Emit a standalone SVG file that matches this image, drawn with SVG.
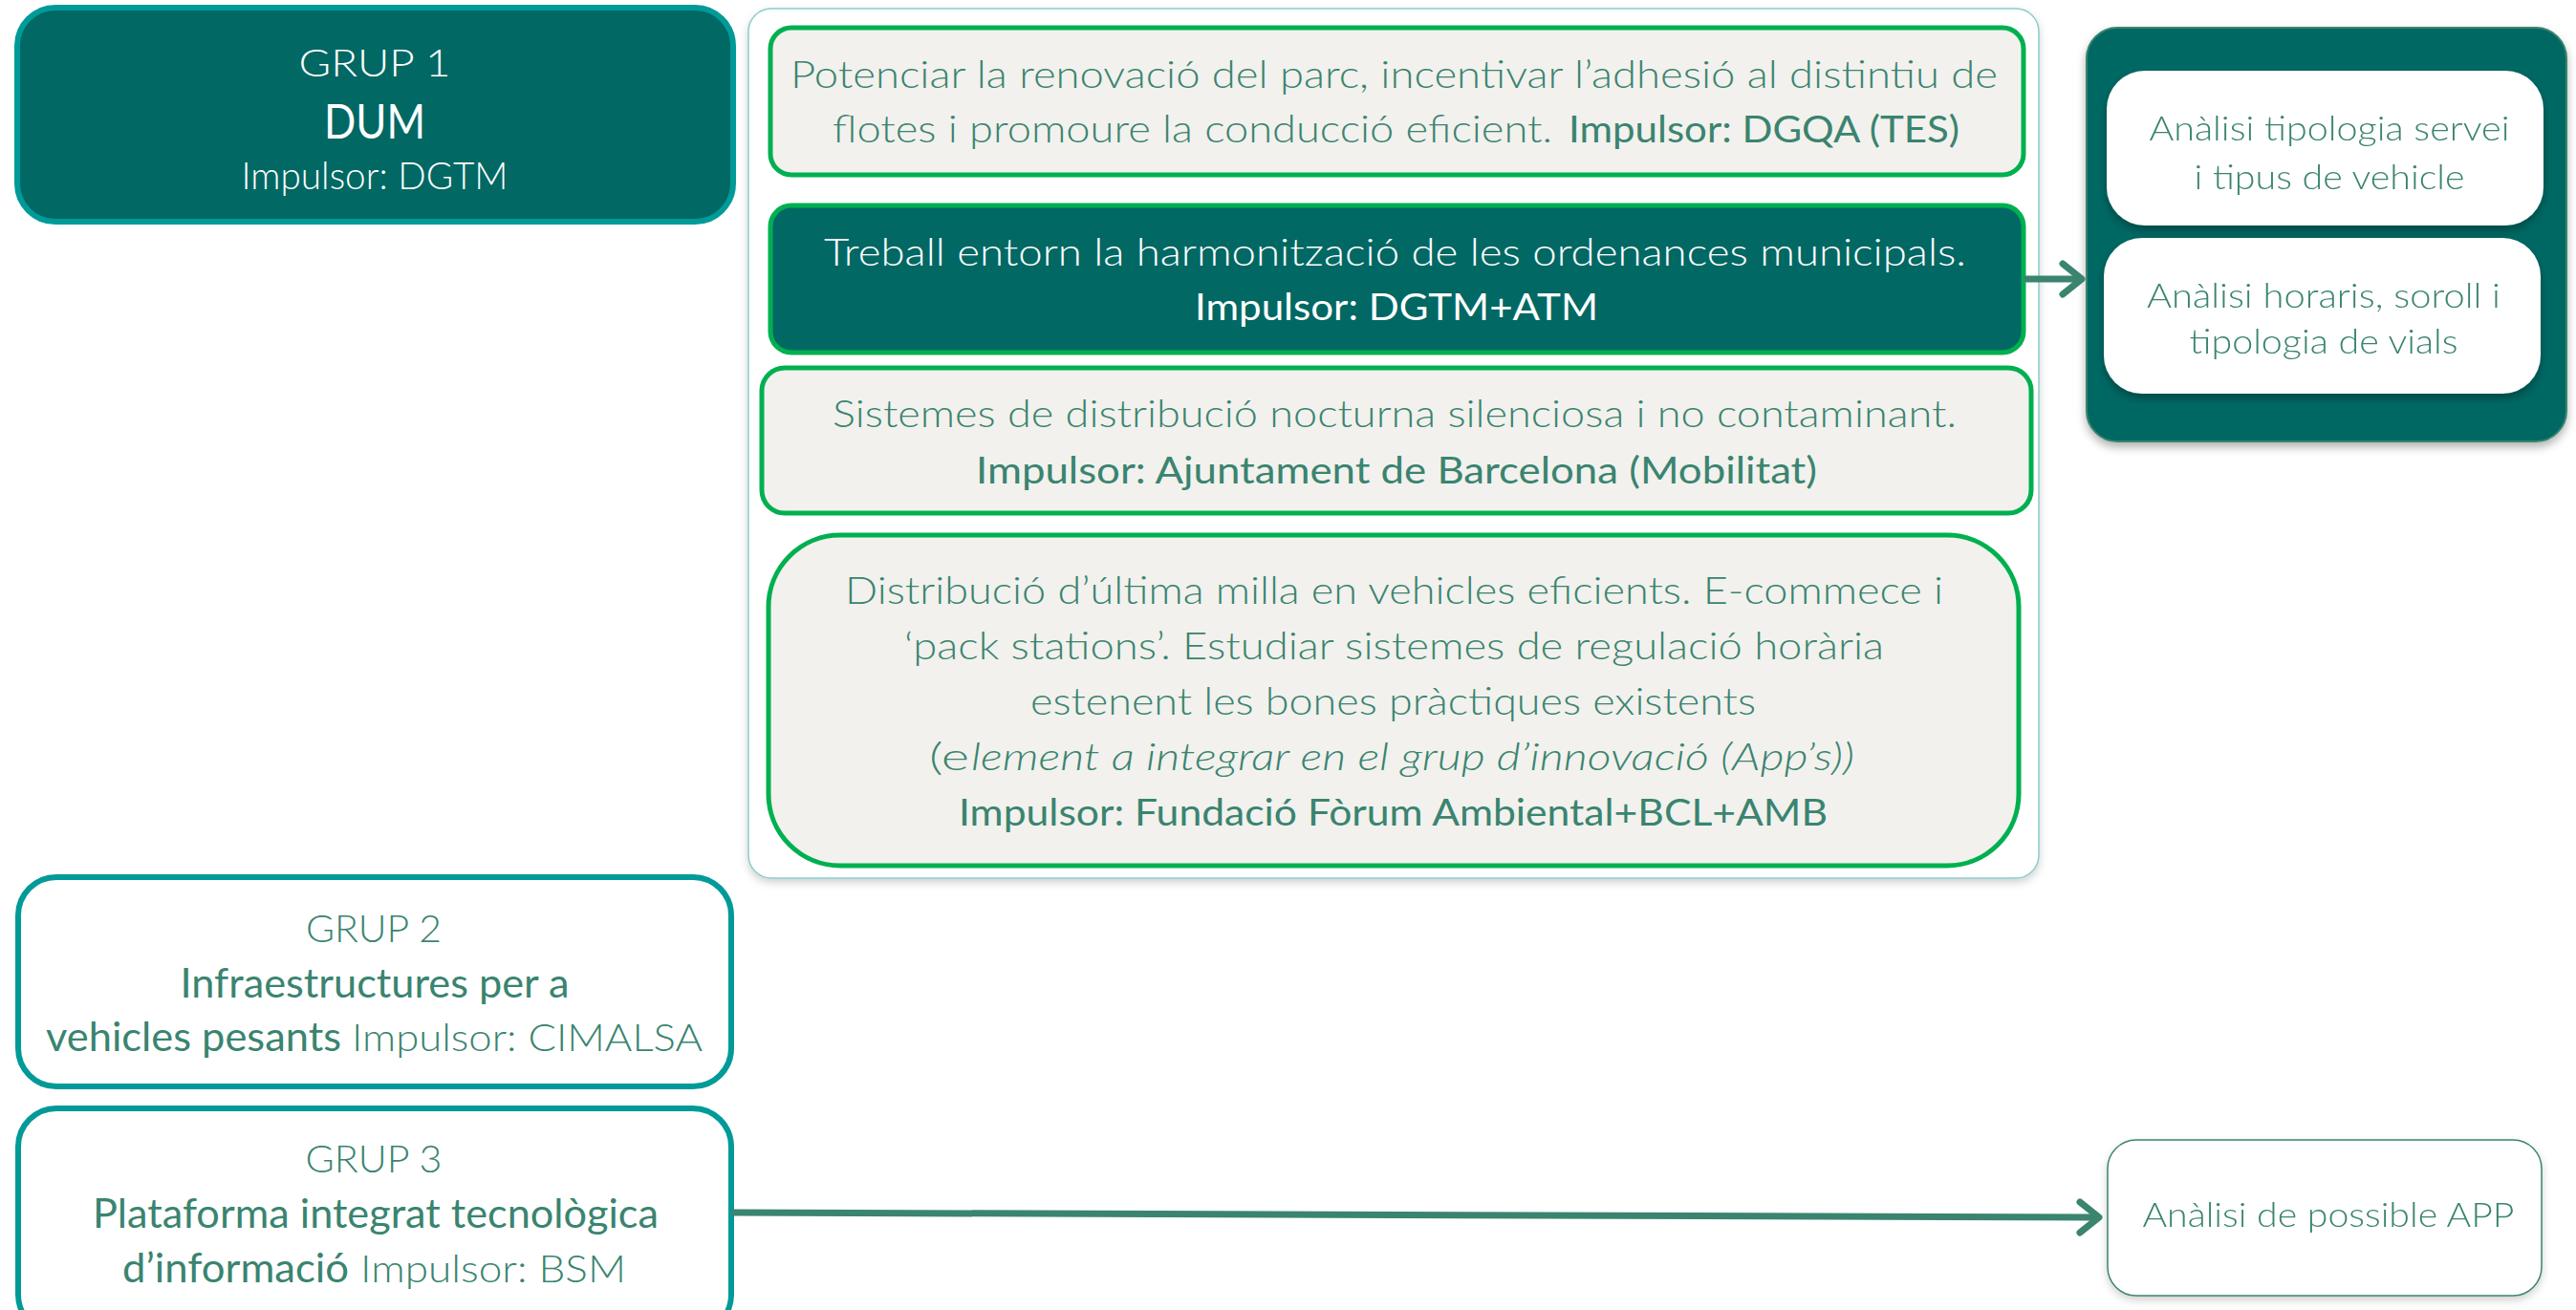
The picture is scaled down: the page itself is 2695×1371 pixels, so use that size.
<svg xmlns="http://www.w3.org/2000/svg" width="2695" height="1371" viewBox="0 0 2695 1371">
<style>
.t{font-family:"Lato","Liberation Sans",sans-serif;font-weight:300;fill:#3A8470}
.r{font-weight:400}
.w{fill:#ffffff}
.i{font-style:italic}
.grp{fill:#ffffff;stroke:#009A98;stroke-width:6}
.grpd{fill:#016864;stroke:#009A98;stroke-width:6}
.act{fill:#F2F1ED;stroke:#00B050;stroke-width:5}
.actd{fill:#016864;stroke:#00B050;stroke-width:5}
.inner{fill:#ffffff;stroke:#3A8470;stroke-width:1.5}
.conn{fill:none;stroke:#3A8470;stroke-width:7;stroke-linecap:round;stroke-linejoin:round}
</style>
<defs>
<filter id="sh" x="-10%" y="-10%" width="120%" height="130%">
<feDropShadow dx="0" dy="5" stdDeviation="5" flood-color="#000000" flood-opacity="0.3"/>
</filter>
<filter id="sh2" x="-10%" y="-10%" width="120%" height="130%">
<feDropShadow dx="0" dy="4" stdDeviation="4" flood-color="#000000" flood-opacity="0.18"/>
</filter>
</defs>
<rect width="2695" height="1371" fill="#ffffff"/>

<g id="grup1">
<rect class="grpd" x="18" y="8" width="749" height="224" rx="40"/>
<text class="t w" x="392" y="80" font-size="40" text-anchor="middle" textLength="159" lengthAdjust="spacingAndGlyphs">GRUP 1</text>
<text class="t w r" x="392" y="145" font-size="50" text-anchor="middle" textLength="106" lengthAdjust="spacingAndGlyphs">DUM</text>
<text class="t w" x="392" y="198" font-size="40" text-anchor="middle" textLength="279" lengthAdjust="spacingAndGlyphs">Impulsor: DGTM</text>
</g>

<g id="container" filter="url(#sh2)">
<rect x="783" y="9" width="1350" height="910" rx="24" fill="#ffffff" stroke="#8CCCCB" stroke-width="1.5"/>
</g>

<g id="accio1">
<rect class="act" x="806" y="29" width="1311" height="154" rx="22"/>
<text class="t" x="827" y="92" font-size="39" textLength="1263" lengthAdjust="spacingAndGlyphs">Potenciar la renovació del parc, incentivar l’adhesió al distintiu de</text>
<text class="t" x="871" y="149" font-size="39" textLength="753" lengthAdjust="spacingAndGlyphs">flotes i promoure la conducció eficient.</text>
<text class="t r" x="1641" y="149" font-size="39" textLength="409" lengthAdjust="spacingAndGlyphs">Impulsor: DGQA (TES)</text>
</g>

<g id="accio2">
<rect class="actd" x="806" y="215" width="1311" height="154" rx="22"/>
<text class="t w" x="862" y="278" font-size="39" textLength="1195" lengthAdjust="spacingAndGlyphs">Treball entorn la harmonització de les ordenances municipals.</text>
<text class="t w r" x="1250" y="335" font-size="39" textLength="422" lengthAdjust="spacingAndGlyphs">Impulsor: DGTM+ATM</text>
</g>

<g id="accio3">
<rect class="act" x="797" y="385" width="1328" height="152" rx="24"/>
<text class="t" x="871" y="447" font-size="39" textLength="1176" lengthAdjust="spacingAndGlyphs">Sistemes de distribució nocturna silenciosa i no contaminant.</text>
<text class="t r" x="1021" y="506" font-size="39" textLength="880" lengthAdjust="spacingAndGlyphs">Impulsor: Ajuntament de Barcelona (Mobilitat)</text>
</g>

<g id="accio4">
<rect class="act" x="804" y="560" width="1308" height="346" rx="75"/>
<text class="t" x="884" y="632" font-size="39" textLength="1149" lengthAdjust="spacingAndGlyphs">Distribució d’última milla en vehicles eficients. E-commece i</text>
<text class="t" x="946" y="690" font-size="39" textLength="1025" lengthAdjust="spacingAndGlyphs">‘pack stations’. Estudiar sistemes de regulació horària</text>
<text class="t" x="1078" y="748" font-size="39" textLength="759" lengthAdjust="spacingAndGlyphs">estenent les bones pràctiques existents</text>
<text class="t" x="972" y="806" font-size="39" textLength="42" lengthAdjust="spacingAndGlyphs">(e</text>
<text class="t i" x="1016" y="806" font-size="39" textLength="924" lengthAdjust="spacingAndGlyphs">lement a integrar en el grup d’innovació (App’s))</text>
<text class="t r" x="1003" y="864" font-size="39" textLength="909" lengthAdjust="spacingAndGlyphs">Impulsor: Fundació Fòrum Ambiental+BCL+AMB</text>
</g>

<g id="analisi" filter="url(#sh)">
<rect x="2183" y="29" width="502" height="433" rx="32" fill="#016864" stroke="#3A8470" stroke-width="2"/>
</g>
<g id="analisi1" filter="url(#sh)">
<rect x="2204" y="74" width="457" height="162" rx="40" fill="#ffffff"/>
<text class="t" x="2437" y="147" font-size="36" text-anchor="middle" textLength="377" lengthAdjust="spacingAndGlyphs">Anàlisi tipologia servei</text>
<text class="t" x="2437" y="198" font-size="36" text-anchor="middle" textLength="283" lengthAdjust="spacingAndGlyphs">i tipus de vehicle</text>
</g>
<g id="analisi2" filter="url(#sh)">
<rect x="2201" y="249" width="457" height="163" rx="40" fill="#ffffff"/>
<text class="t" x="2431" y="322" font-size="36" text-anchor="middle" textLength="370" lengthAdjust="spacingAndGlyphs">Anàlisi horaris, soroll i</text>
<text class="t" x="2431" y="370" font-size="36" text-anchor="middle" textLength="281" lengthAdjust="spacingAndGlyphs">tipologia de vials</text>
</g>

<g id="grup2">
<rect class="grp" x="19" y="918" width="746" height="219" rx="40"/>
<text class="t" x="391" y="986" font-size="40" text-anchor="middle" textLength="142" lengthAdjust="spacingAndGlyphs">GRUP 2</text>
<text class="t r" x="392" y="1044" font-size="42" text-anchor="middle" textLength="407" lengthAdjust="spacingAndGlyphs">Infraestructures per a</text>
<text class="t r" x="48" y="1100" font-size="42" textLength="309" lengthAdjust="spacingAndGlyphs">vehicles pesants</text>
<text class="t" x="368" y="1100" font-size="40" textLength="367" lengthAdjust="spacingAndGlyphs">Impulsor: CIMALSA</text>
</g>

<g id="grup3">
<rect class="grp" x="19" y="1160" width="746" height="235" rx="40"/>
<text class="t" x="391" y="1227" font-size="40" text-anchor="middle" textLength="143" lengthAdjust="spacingAndGlyphs">GRUP 3</text>
<text class="t r" x="393" y="1285" font-size="42" text-anchor="middle" textLength="592" lengthAdjust="spacingAndGlyphs">Plataforma integrat tecnològica</text>
<text class="t r" x="128" y="1342" font-size="42" textLength="237" lengthAdjust="spacingAndGlyphs">d’informació</text>
<text class="t" x="377" y="1342" font-size="40" textLength="278" lengthAdjust="spacingAndGlyphs">Impulsor: BSM</text>
</g>

<g id="app" filter="url(#sh2)">
<rect x="2205" y="1193" width="454" height="163" rx="30" fill="#ffffff" stroke="#3A8470" stroke-width="1.5"/>
<text class="t" x="2436" y="1284" font-size="36" text-anchor="middle" textLength="389" lengthAdjust="spacingAndGlyphs">Anàlisi de possible APP</text>
</g>

<g id="connectors">
<path class="conn" d="M2120 292 L2176 292"/>
<path class="conn" d="M2158 276 L2178 292 L2158 308"/>
<path class="conn" d="M768 1269 L2192 1274"/>
<path class="conn" d="M2176 1258 L2196 1274 L2176 1290"/>
</g>
</svg>
